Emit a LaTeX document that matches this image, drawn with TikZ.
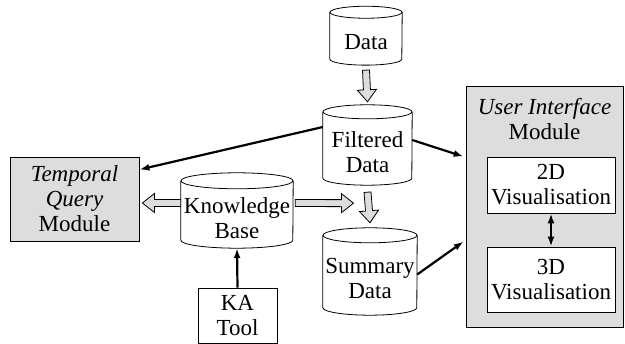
\documentclass[tikz,border=0pt]{standalone}
\usepackage{fontspec}
\setmainfont{Liberation Serif}
\usetikzlibrary{arrows.meta, calc}

\tikzset{
  store/.style n args={3}{minimum width=#1, minimum height=#2, inner sep=0pt, align=center,
    append after command={\pgfextra{
      \draw[line width=0.8pt] ([yshift=#3]\tikzlastnode.north west)
        -- ([yshift=#3]\tikzlastnode.south west)
        arc[start angle=180, end angle=360, x radius=#1/2, y radius=#3]
        -- ([yshift=#3]\tikzlastnode.north east);
      \draw[line width=0.8pt] ([yshift=#3]\tikzlastnode.north) ellipse[x radius=#1/2, y radius=#3];
    }}},
  box/.style={draw, line width=0.8pt, align=center, inner sep=0pt},
  module/.style={box, fill=gray!27},
  link/.style={->, line width=2.2pt},
  hollow/.style={draw, fill=gray!27, line width=0.8pt, line join=miter,
    to path={let \p1=($(\tikztotarget)!12pt!(\tikztostart)$) in
      ($(\tikztostart)!3.5pt!90:(\tikztotarget)$) --
      ($(\p1)!3.5pt!90:(\tikztotarget)$) --
      ($(\p1)!9.5pt!90:(\tikztotarget)$) --
      (\tikztotarget) --
      ($(\p1)!9.5pt!-90:(\tikztotarget)$) --
      ($(\p1)!3.5pt!-90:(\tikztotarget)$) --
      ($(\tikztostart)!3.5pt!-90:(\tikztotarget)$) -- cycle}}
}

\begin{document}
\begin{tikzpicture}[x=1pt, y=-1pt, >={Latex[length=10pt,width=7pt]},
    font=\rmfamily\fontsize{23}{25}\selectfont]

    \useasboundingbox (0,0) rectangle (625,344);

    % data stores
    \node[store={72pt}{46.5pt}{6pt}] (data) at (366,41.7) {Data};
    \node[store={89pt}{66pt}{7pt}] (filt) at (367.5,152) {Filtered\\Data};
    \node[store={94pt}{72pt}{7.5pt}] (summ) at (370,279) {Summary\\Data};
    \node[store={112pt}{59pt}{8pt}] (kb) at (237,218.5) {Knowledge\\Base};

    % modules
    \node[box, minimum width=79pt, minimum height=55pt] (ka) at (237.5,315.5) {KA\\Tool};
    \node[module, minimum width=129pt, minimum height=84pt] (tq) at (74.5,199)
        {\textit{Temporal}\\\textit{Query}\\Module};

    \node[module, minimum width=157pt, minimum height=241pt] (ui) at (544.5,206.5) {};
    \node[align=center, inner sep=0pt] (uititle) at (544.5,119) {\textit{User Interface}\\Module};
    \node[box, fill=white, minimum width=128pt, minimum height=56pt] (v2) at (551,185) {2D\\Visualisation};
    \node[box, fill=white, minimum width=128pt, minimum height=65pt] (v3) at (551,279.5) {3D\\Visualisation};

    % data flow
    \draw[hollow] ([yshift=-5pt]data.south) to ([yshift=17pt]filt.north);
    \draw[hollow] ([yshift=-7pt]filt.south) to ([yshift=20pt]summ.north);
    \draw[hollow] ([yshift=15.5pt]kb.west) to ([xshift=3pt,yshift=-4pt]tq.east);
    \draw[hollow] ([xshift=2pt,yshift=15.5pt]kb.east) to ([xshift=-14pt,yshift=-18pt]filt.south);

    \draw[link] ([yshift=25pt]filt.west) -- ([yshift=-13pt]tq.north east);
    \draw[link] ([yshift=12pt]filt.east) -- ([xshift=-2pt,yshift=-71pt]ui.north west);
    \draw[link] ([yshift=4.5pt]summ.east) -- ([xshift=-2pt,yshift=-35pt]ui.west);
    \draw[link] (ka.north) -- (kb.south);
    \draw[link, <->] (v2.south) -- (v3.north);

\end{tikzpicture}
\end{document}
